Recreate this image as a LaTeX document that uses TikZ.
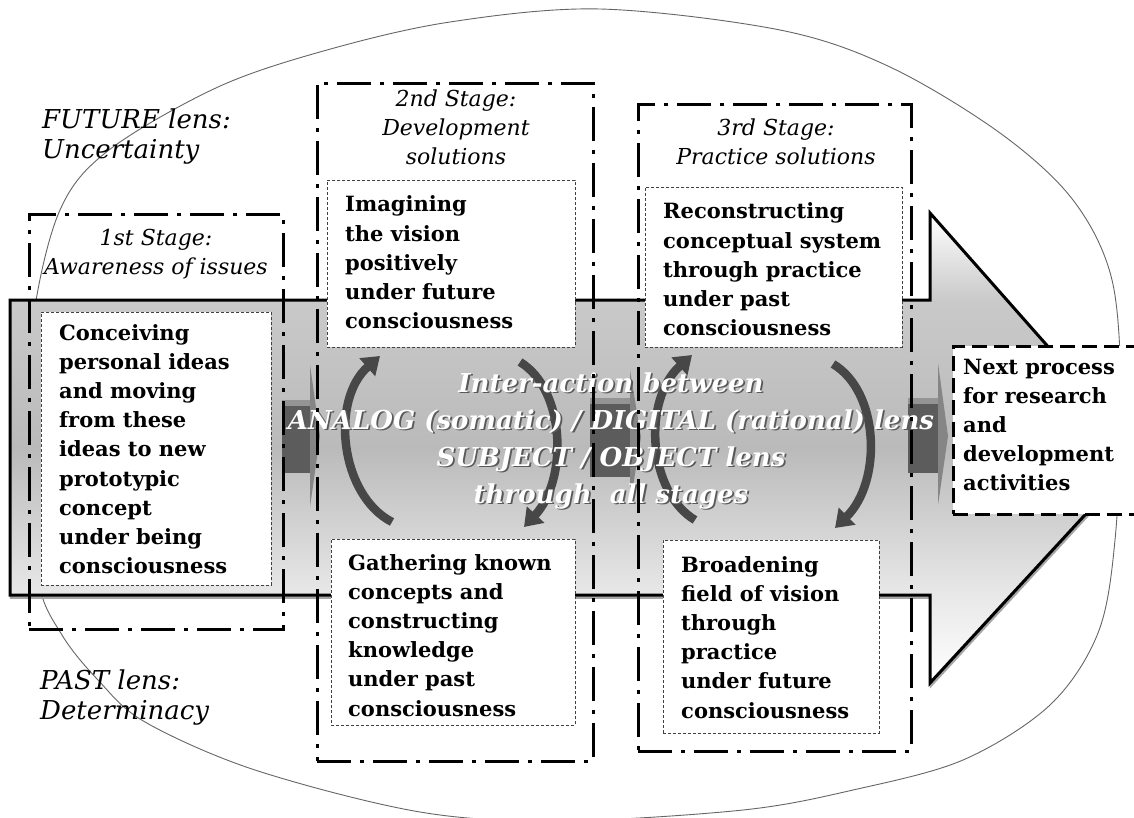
\documentclass[tikz,border=0pt]{standalone}
\usepackage{fontspec}
\setmainfont{DejaVu Serif}
\usetikzlibrary{arrows.meta}
\colorlet{shA}{black!9}
\colorlet{shB}{black!27}
\colorlet{shC}{black!21}
\pgfdeclareverticalshading{arrowshade}{100bp}{color(0bp)=(white); color(25bp)=(white); color(34.4bp)=(shA); color(50bp)=(shB); color(65.7bp)=(shC); color(75bp)=(white); color(100bp)=(white)}
\begin{document}
\begin{tikzpicture}[x=1pt,y=-1pt,
  cbox/.style={draw=black!75, fill=white, line width=0.9pt, dash pattern=on 3pt off 2pt, inner sep=0, anchor=north west},
  stagebox/.style={draw=black, line width=2.6pt, dash pattern=on 34pt off 9pt on 4pt off 9pt, inner sep=0, anchor=north west},
  nextbox/.style={draw=black, fill=white, line width=2.8pt, dash pattern=on 15pt off 7pt, inner sep=0, anchor=north west},
  bodytext/.style={inner sep=0, anchor=base west, font=\bfseries\fontsize{21}{29.2}\selectfont},
  titletext/.style={inner sep=0, anchor=base, font=\itshape\fontsize{22}{29}\selectfont},
  lenstext/.style={inner sep=0, anchor=base west, font=\itshape\fontsize{26}{30}\selectfont},
  midtext/.style={inner sep=0, anchor=base, font=\bfseries\itshape\fontsize{26}{37}\selectfont},
  cycarrow/.style={line width=8.5pt, draw=black!72, -{Triangle[width=23pt,length=17pt]}},
  shaft/.style={fill=black!64, draw=none},
  shafttop/.style={fill=black!42, draw=none},
  chevhead/.style={fill=black!48, draw=none}
]
\useasboundingbox (0,0) rectangle (1134,818);
\clip (0,0) rectangle (1134,818);
\fill[white] (0,0) rectangle (1134,818);

% ellipse
\draw[fill=white, draw=black!60, line width=0.9pt] plot[smooth cycle, tension=0.55] coordinates {
 (600,9) (780,30) (890,67) (1000,133) (1073,200) (1112,280) (1121,400) (1115,540)
 (1098,633) (1050,705) (963,760) (853,790) (743,810) (560,821) (420,812) (255,770)
 (145,722) (98,680) (62,635) (38,580) (27,450) (33,320) (60,210) (109,150) (218,87) (327,50) (450,22)};

% big arrow
\draw[black!35, line width=2.5pt, shift={(1,2.5)}] (10,300) -- (930,300) -- (930,213) -- (1142,453) -- (930,683) -- (930,595) -- (10,595) -- cycle;
\shade[shading=arrowshade]
  (10,300) -- (930,300) -- (930,213) -- (1142,453) -- (930,683) -- (930,595) -- (10,595) -- cycle;
\draw[black, line width=3pt, line join=miter]
  (10,300) -- (930,300) -- (930,213) -- (1142,453) -- (930,683) -- (930,595) -- (10,595) -- cycle;

% chevrons (block arrows between stages)
\fill[shaft] (282,400) rectangle (312,473);
\fill[shafttop] (282,400) rectangle (312,406);
\fill[chevhead] (310,365) -- (320,436) -- (310,507) -- cycle;
\fill[shaft] (590,398) rectangle (632,477);
\fill[shafttop] (590,398) rectangle (632,404);
\fill[chevhead] (630,370) -- (641,437) -- (630,505) -- cycle;
\fill[shaft] (908,398) rectangle (940,473);
\fill[shafttop] (908,398) rectangle (940,404);
\fill[chevhead] (938,363) -- (948,436) -- (938,505) -- cycle;

% cycle arrows
\coordinate (a1s) at (392,522); \coordinate (a1e) at (380,356);
\coordinate (a2s) at (520,362); \coordinate (a2e) at (524,527);
\coordinate (a3s) at (695,520); \coordinate (a3e) at (692,355);
\coordinate (a4s) at (833,364); \coordinate (a4e) at (835,528);
\draw[cycarrow] (a1s) .. controls (340,495) and (330,400) .. (a1e);
\draw[cycarrow] (a2s) .. controls (566,390) and (568,480) .. (a2e);
\draw[cycarrow] (a3s) .. controls (648,492) and (642,400) .. (a3e);
\draw[cycarrow] (a4s) .. controls (880,392) and (882,482) .. (a4e);

% centre text
\node[midtext, text=black!65] (midshadow) at (612.8,393.8) {\begin{tabular}[t]{@{}c@{}}Inter-action between\\ANALOG (somatic) / DIGITAL (rational) lens\\SUBJECT / OBJECT lens\\through~~all stages\end{tabular}};
\node[midtext, text=white] (mid) at (611,392) {\begin{tabular}[t]{@{}c@{}}Inter-action between\\ANALOG (somatic) / DIGITAL (rational) lens\\SUBJECT / OBJECT lens\\through~~all stages\end{tabular}};

% content boxes
\node[cbox, minimum width=230pt, minimum height=273pt] (conceivingbox) at (41,312) {};
\node[bodytext] (conceiving) at (59,340) {\begin{tabular}[t]{@{}l@{}}Conceiving\\personal ideas\\and moving\\from these\\ideas to new\\prototypic\\concept\\under being\\consciousness\end{tabular}};
\node[cbox, minimum width=248pt, minimum height=167pt] (imaginingbox) at (327,180) {};
\node[bodytext] (imagining) at (345,212) {\begin{tabular}[t]{@{}l@{}}Imagining\\the vision\\positively\\under future\\consciousness\end{tabular}};
\node[cbox, minimum width=257pt, minimum height=160pt] (reconbox) at (645,187) {};
\node[bodytext] (recon) at (663,219) {\begin{tabular}[t]{@{}l@{}}Reconstructing\\conceptual system\\through practice\\under past\\consciousness\end{tabular}};
\node[cbox, minimum width=244pt, minimum height=186pt] (gatherbox) at (331,539) {};
\node[bodytext] (gather) at (348,570) {\begin{tabular}[t]{@{}l@{}}Gathering known\\concepts and\\constructing\\knowledge\\under past\\consciousness\end{tabular}};
\node[cbox, minimum width=216pt, minimum height=193pt] (broadbox) at (663,540) {};
\node[bodytext] (broad) at (681,572) {\begin{tabular}[t]{@{}l@{}}Broadening\\field of vision\\through\\practice\\under future\\consciousness\end{tabular}};

% next process box
\node[nextbox, minimum width=208pt, minimum height=168pt] (nextbox) at (952,345) {};
\node[bodytext] (next) at (963,374) {\begin{tabular}[t]{@{}l@{}}Next process\\for research\\and\\development\\activities\end{tabular}};

% stage boxes
\node[stagebox, minimum width=254pt, minimum height=415pt] (stage1) at (28,213) {};
\node[stagebox, minimum width=276pt, minimum height=678pt] (stage2) at (316,82) {};
\node[stagebox, minimum width=273pt, minimum height=647pt] (stage3) at (637,103) {};
\node[titletext] (t1) at (156,245) {\begin{tabular}[t]{@{}c@{}}1st Stage:\\Awareness of issues\end{tabular}};
\node[titletext] (t2) at (456,107) {\begin{tabular}[t]{@{}c@{}}2nd Stage:\\Development\\solutions\end{tabular}};
\node[titletext] (t3) at (776,136) {\begin{tabular}[t]{@{}c@{}}3rd Stage:\\Practice solutions\end{tabular}};

% lens labels
\node[lenstext] (future) at (42,129) {\begin{tabular}[t]{@{}l@{}}FUTURE lens:\\Uncertainty\end{tabular}};
\node[lenstext] (past) at (40,689) {\begin{tabular}[t]{@{}l@{}}PAST lens:\\Determinacy\end{tabular}};
\end{tikzpicture}
\end{document}
